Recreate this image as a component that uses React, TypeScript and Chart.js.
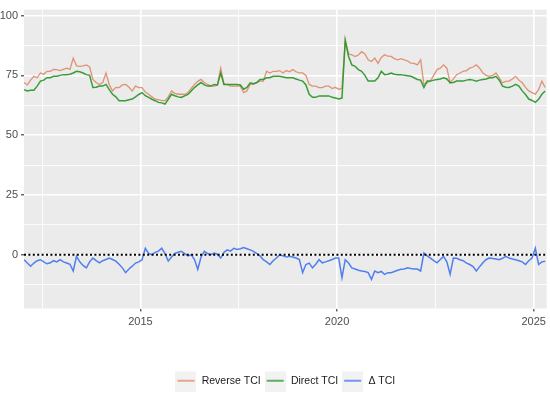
import React, { useEffect, useRef } from "react";
import { Chart, registerables } from "chart.js";

Chart.register(...registerables);

// ---- data (monthly, Jan 2012 – Apr 2025) ----
const START_YEAR = 2012;
const SERIES_NAMES = ["Reverse TCI", "Direct TCI", "Δ TCI"];

const REVERSE_TCI = [
  72, 71, 73, 74.6, 74, 76, 75.5, 76.7, 76.7, 77.5, 77.4, 77,
  77.5, 78, 77.5, 82.2, 79, 78.8, 79, 79.4, 78.5, 73.3, 72, 71.2,
  72, 76, 71, 68.5, 70, 69.9, 71, 71.2, 70, 68.5, 70.5, 69.9,
  69.9, 68, 67.1, 66, 65.1, 64.8, 64.4, 64.4, 66, 68.5, 67.5, 67.1,
  67.1, 67, 67.8, 69.5, 71.2, 72.5, 73.3, 72, 71.2, 70.5, 70.5, 71,
  78, 71.2, 71.2, 70.5, 70.5, 70.5, 70.5, 67.8, 68.5, 71.2, 71.2, 72,
  72.6, 72.6, 76.7, 76, 76.7, 76.7, 77, 76, 77, 76.5, 77.4, 76.5,
  76, 76, 75, 71.2, 70.5, 70.5, 69.9, 69.9, 70.5, 70.5, 69.5, 70,
  69.2, 69.5, 89.7, 84, 83.6, 82.9, 83.5, 84.9, 84, 81.5, 80.8, 82.2,
  80, 82.5, 83.6, 83, 82.9, 82, 81.5, 82, 81.5, 81, 80.1, 80,
  79.4, 81.5, 71.2, 72, 72.6, 75, 77.4, 78, 79.4, 78, 71.9, 73.5,
  75.3, 76, 76.7, 77, 78, 78.5, 79.4, 78, 76, 75, 74.6, 75,
  76, 74, 71.9, 72.5, 72.6, 73.5, 74.6, 73, 71.9, 70, 68.5, 67.8,
  67.1, 69, 72.6, 69.9,
];

const DIRECT_TCI = [
  69, 68.5, 68.8, 68.8, 70.5, 72.6, 73, 74, 74, 74.6, 74.6, 75,
  75.3, 75.3, 75.5, 76, 76.7, 76.5, 76, 75.3, 75, 69.9, 70, 70.5,
  70.5, 71.2, 69, 67.1, 66, 64.4, 64.4, 64.4, 64.8, 65.1, 66, 67,
  67.8, 66.5, 65.8, 65, 64.4, 63.7, 63.5, 63, 65, 67.1, 66.5, 66,
  65.8, 66.4, 67, 68.5, 69.9, 71, 72, 71, 70.5, 70.5, 71.2, 71,
  76, 71.2, 71.2, 71.2, 71.2, 71.2, 71, 69.2, 70, 71.9, 71.5, 72,
  73.3, 73.3, 74, 74, 74.6, 74.6, 74.6, 74.3, 74, 74, 74, 73.5,
  73, 72.6, 71, 67.1, 65.8, 65.8, 66.4, 66.4, 66.4, 66.4, 65.8, 65.5,
  65.1, 65.5, 89.7, 83, 79.4, 78.8, 77.4, 76.7, 75, 72.6, 72.6, 72.6,
  74, 76.7, 75.3, 75.5, 76, 75.5, 75.3, 75.3, 75, 74.8, 74.6, 74,
  73.3, 73, 69.9, 72.6, 72.6, 73, 73.3, 73.5, 74, 73.5, 71.9, 72,
  72.6, 72.6, 72.6, 73, 73.3, 73, 72.6, 73, 73.3, 73.5, 74, 74,
  74.6, 73, 70.5, 70, 69.9, 70.5, 71.2, 70.5, 68.5, 67, 65.1, 64.5,
  63.7, 65, 67.1, 68.5,
];

const DELTA_TCI = [
  -2.1, -3.5, -4.8, -3.5, -2.5, -2.1, -3, -3.8, -3.4, -2.5, -3, -2.1,
  -3, -3.5, -4, -6.8, -0.7, -3, -4.5, -5.5, -3, -1.4, -2.5, -3.4,
  -2.5, -2, -1.4, -2, -2.7, -4, -5.5, -7.5, -6, -4.8, -3.5, -3,
  -2.1, 2.7, 0.5, 0, 1, 1.5, 2.7, 0.5, -2.7, -1, 0.5, 1,
  1.4, 0.5, -0.5, 0, -2, -6.1, -1, 1.4, 0.5, 0, 0.7, 0.2,
  -1.4, 1, 2, 1.5, 2.7, 2.2, 2.5, 3, 2.5, 2, 1.4, 0.5,
  -0.5, -2.1, -3, -4.1, -2.5, -1.4, 0, -0.5, -1, -0.7, -1, -1.4,
  -2, -7.5, -4.1, -3.5, -5.5, -4, -2.1, -3.4, -3, -2.5, -2, -1.4,
  -1.4, -9.6, -2.1, -3.5, -5.5, -6, -6.5, -6.8, -7, -7.5, -10.3, -6.8,
  -7.5, -7, -8.2, -7.5, -7.5, -7, -6.5, -6.1, -6, -5.5, -5.8, -6,
  -6, -6.8, 0.7, -0.5, -1.4, -2.5, -3.4, -2, -0.7, -3, -8.2, -1.4,
  -1.5, -2.1, -2.5, -3.5, -4.1, -5, -6.8, -5, -3.4, -2, -1.4, -1.6,
  -1.8, -2.1, -1.5, -0.7, -1.4, -1.8, -2.1, -2.5, -3, -4.1, -2.5, -1.4,
  2.7, -4.1, -3, -2.7,
];

const X_MIN = 2012.04;
const X_MAX = 2025.33;
const Y_MIN = -22.5;
const Y_MAX = 102.5;
const X_GRID = [2012.5, 2015, 2017.5, 2020, 2022.5, 2025];
const X_LABELS = [2015, 2020, 2025];
const Y_GRID = [-12.5, 0, 12.5, 25, 37.5, 50, 62.5, 75, 87.5, 100];
const Y_LABELS = [0, 25, 50, 75, 100];
const REF_LINE = 0;

const COLORS = ["rgba(222,136,104,0.9)", "rgba(40,150,40,0.92)", "#4F7FEE"];
const FONT = "'Liberation Sans', Arial, sans-serif";

function monthX(i: number) {
  return START_YEAR + (i + 0.5) / 12;
}
function toPoints(arr: number[]) {
  return arr.map((v, i) => ({ x: monthX(i), y: v }));
}

function makeKey(color: string) {
  const c = document.createElement("canvas");
  c.width = 21;
  c.height = 22;
  const g = c.getContext("2d")!;
  g.fillStyle = "#F2F2F2";
  g.fillRect(0, 0, 21, 22);
  g.strokeStyle = color;
  g.lineWidth = 1.6;
  g.beginPath();
  g.moveTo(2, 11);
  g.lineTo(19, 11);
  g.stroke();
  return c;
}

const panelBg = {
  id: "panelBg",
  beforeDraw(chart: any) {
    const { ctx, chartArea } = chart;
    ctx.save();
    ctx.fillStyle = "#EBEBEB";
    ctx.fillRect(chartArea.left, chartArea.top, chartArea.right - chartArea.left, chartArea.bottom - chartArea.top);
    ctx.restore();
  },
};

const refLine = {
  id: "refLine",
  afterDatasetsDraw(chart: any) {
    const { ctx, chartArea, scales } = chart;
    const y = scales.y.getPixelForValue(REF_LINE);
    ctx.save();
    ctx.strokeStyle = "#000";
    ctx.lineWidth = 2;
    ctx.setLineDash([2, 2.4]);
    ctx.beginPath();
    ctx.moveTo(chartArea.left, y);
    ctx.lineTo(chartArea.right, y);
    ctx.stroke();
    ctx.restore();
  },
};

// centre the legend under the panel rather than the whole canvas
const legendShift = {
  id: "legendShift",
  afterLayout(chart: any) {
    const lg = chart.legend;
    if (!lg) return;
    const d = (chart.chartArea.left + chart.chartArea.right) / 2 - (lg.left + lg.right) / 2;
    lg.left += d;
    lg.right += d;
  },
};

export default function App() {
  const ref = useRef<HTMLCanvasElement | null>(null);

  useEffect(() => {
    document.body.style.margin = "0";
    const keys = COLORS.map(makeKey);
    const isMajorX = (v: number) => X_LABELS.includes(v);
    const isMajorY = (v: number) => Y_LABELS.includes(v);
    const chart = new Chart(ref.current!, {
      type: "line",
      data: {
        datasets: [
          { label: SERIES_NAMES[0], data: toPoints(REVERSE_TCI), borderColor: COLORS[0], borderWidth: 1.3, order: 2 },
          { label: SERIES_NAMES[1], data: toPoints(DIRECT_TCI), borderColor: COLORS[1], borderWidth: 1.5, order: 1 },
          { label: SERIES_NAMES[2], data: toPoints(DELTA_TCI), borderColor: COLORS[2], borderWidth: 1.5, order: 0 },
        ] as any,
      },
      options: {
        animation: false,
        responsive: false,
        parsing: false as any,
        elements: { point: { radius: 0 }, line: { tension: 0 } },
        layout: { padding: { top: 4, right: 3, bottom: 0, left: 0 } },
        plugins: {
          tooltip: { enabled: false },
          legend: {
            position: "bottom",
            labels: {
              usePointStyle: true,
              pointStyleWidth: 21,
              boxHeight: 11,
              padding: 4,
              color: "#1A1A1A",
              font: { family: FONT, size: 10.5 },
              generateLabels: (c: any) =>
                c.data.datasets.map((ds: any, i: number) => ({
                  text: ds.label,
                  pointStyle: keys[i],
                  fillStyle: "transparent",
                  strokeStyle: "transparent",
                  lineWidth: 0,
                  hidden: false,
                  datasetIndex: i,
                  fontColor: "#1A1A1A",
                })),
            },
          },
        },
        scales: {
          x: {
            type: "linear",
            min: X_MIN,
            max: X_MAX,
            afterBuildTicks: (s: any) => {
              s.ticks = X_GRID.map((v) => ({ value: v }));
            },
            afterFit: (s: any) => {
              s.height = 63;
            },
            ticks: {
              autoSkip: false,
              maxRotation: 0,
              padding: 4,
              color: "#4D4D4D",
              font: { family: FONT, size: 11 },
              callback: (v: any) => (isMajorX(Number(v)) ? String(v) : ""),
            },
            grid: {
              color: "#FFFFFF",
              lineWidth: (ctx: any) => (isMajorX(ctx.tick?.value) ? 1.6 : 0.8),
              tickColor: (ctx: any) => (isMajorX(ctx.tick?.value) ? "#333333" : "rgba(0,0,0,0)"),
              tickWidth: 1.1,
              tickLength: 3,
            },
            border: { display: false },
          },
          y: {
            type: "linear",
            min: Y_MIN,
            max: Y_MAX,
            afterBuildTicks: (s: any) => {
              s.ticks = Y_GRID.map((v) => ({ value: v }));
            },
            afterFit: (s: any) => {
              s.width = 24;
            },
            ticks: {
              autoSkip: false,
              padding: 3,
              color: "#4D4D4D",
              font: { family: FONT, size: 11 },
              callback: (v: any) => (isMajorY(Number(v)) ? String(v) : ""),
            },
            grid: {
              color: "#FFFFFF",
              lineWidth: (ctx: any) => (isMajorY(ctx.tick?.value) ? 1.6 : 0.8),
              tickColor: (ctx: any) => (isMajorY(ctx.tick?.value) ? "#333333" : "rgba(0,0,0,0)"),
              tickWidth: 1.1,
              tickLength: 3,
            },
            border: { display: false },
          },
        },
      },
      plugins: [panelBg, refLine, legendShift],
    });
    return () => chart.destroy();
  }, []);

  return (
    <div style={{ width: 550, height: 396 }}>
      <canvas ref={ref} width={550} height={396} style={{ display: "block" }} />
    </div>
  );
}
